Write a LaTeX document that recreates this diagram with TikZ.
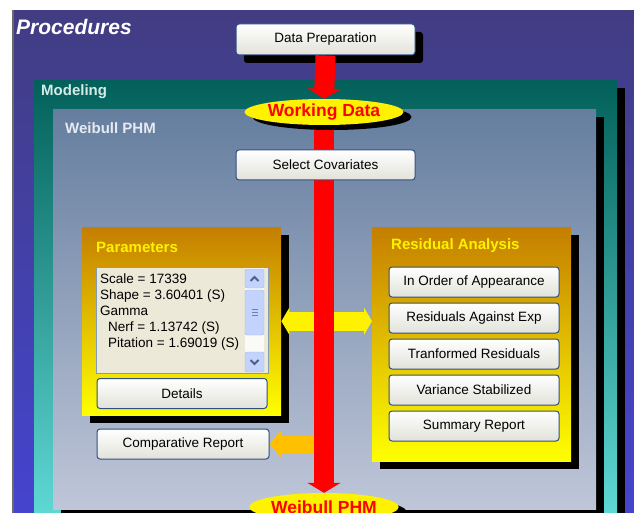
\documentclass[tikz,border=0pt]{standalone}
\usepackage{fontspec}
\setmainfont{Liberation Sans}
\usetikzlibrary{shapes.geometric}
\usetikzlibrary{shadows}
\usetikzlibrary{arrows.meta}
\definecolor{procTop}{HTML}{423D82}
\definecolor{procBot}{HTML}{4444D0}
\definecolor{procEdge}{HTML}{6A6A6A}
\definecolor{modTop}{HTML}{03605A}
\definecolor{modBot}{HTML}{60DAD6}
\definecolor{modText}{HTML}{D4ECE8}
\definecolor{phmTop}{HTML}{657E9F}
\definecolor{phmBot}{HTML}{BFC6D9}
\definecolor{phmText}{HTML}{E6EAF2}
\definecolor{goldTop}{HTML}{C47E00}
\definecolor{goldBot}{HTML}{FFFF00}
\definecolor{btnEdge}{HTML}{2F5080}
\definecolor{btnBot}{HTML}{E2E2DA}
\definecolor{listFill}{HTML}{ECE9D8}
\definecolor{listEdge}{HTML}{7F9DB9}
\definecolor{scrollTrack}{HTML}{FAFAF6}
\definecolor{scrollFill}{HTML}{C3D3FD}
\definecolor{scrollEdge}{HTML}{A2B8E6}
\definecolor{scrollMark}{HTML}{4D6185}
\definecolor{flowOrange}{HTML}{FFC000}
\pgfdeclarelayer{panels}
\pgfdeclarelayer{flows}
\pgfsetlayers{panels,flows,main}
\tikzset{
  shade8/.style={drop shadow={shadow xshift=8pt,shadow yshift=-8pt,opacity=1,fill=black}},
  frame/.style={rectangle, anchor=north west, inner sep=0pt},
  title/.style={anchor=west, inner sep=0pt, font=\bfseries\fontsize{15}{18}\selectfont},
  winbtn/.style={draw=btnEdge, line width=1pt, rounded corners=3pt, top color=white, bottom color=btnBot,
    minimum height=30pt, inner sep=0pt, text=black, font=\fontsize{13.5}{16}\selectfont},
  flowlabel/.style={ellipse, fill=yellow, minimum width=148pt, minimum height=26pt, inner sep=0pt,
    text=red, font=\bfseries\fontsize{17.5}{19}\selectfont,
    drop shadow={shadow xshift=8pt,shadow yshift=-5pt,opacity=1,fill=black}},
  listbox/.style={draw=listEdge, fill=listFill, line width=1pt, inner sep=0pt, anchor=north west},
  listtext/.style={anchor=base west, inner sep=0pt, font=\fontsize{13.5}{16}\selectfont},
  scrollbtn/.style={draw=scrollEdge, fill=scrollFill, rounded corners=2pt, minimum width=19pt, inner sep=0pt},
  redflow/.style={draw=red, line width=20pt, -{Triangle[width=33pt,length=10pt]}},
  yellowflow/.style={draw=yellow, line width=19pt, {Triangle[width=27pt,length=8pt]}-{Triangle[width=27pt,length=8pt]}},
  orangeflow/.style={draw=flowOrange, line width=17pt, -{Triangle[width=27pt,length=12pt]}}
}
\newcommand{\winbutton}[5]{\node[winbtn, minimum width=#4] (#1) at (#2, #3) {#5};}

\begin{document}
\begin{tikzpicture}[x=1pt,y=-1pt]
    \useasboundingbox (0,0) rectangle (634,513);

    % frames, back to front
    \begin{pgfonlayer}{panels}
        \clip (0,0) rectangle (634,513);
        \fill[white] (0,0) rectangle (634,513);
        \node[frame, top color=procTop, bottom color=procBot, minimum width=625pt, minimum height=510pt] (procedures) at (13,10) {};
        \draw[procEdge, line width=2pt] (procedures.north west) -- (procedures.south west);
        \node[frame, shade8, top color=modTop, bottom color=modBot, minimum width=583pt, minimum height=440pt] (modeling) at (34,80) {};
        \node[frame, shade8, top color=phmTop, bottom color=phmBot, minimum width=543pt, minimum height=400pt] (phm) at (53,109) {};
        \node[frame, shade8, top color=goldTop, bottom color=goldBot, minimum width=199pt, minimum height=188pt] (params) at (82,227) {};
        \node[frame, shade8, top color=goldTop, bottom color=goldBot, minimum width=199pt, minimum height=234pt] (resid) at (372,227) {};
        \node[winbtn, shade8, minimum width=179pt, minimum height=31pt] (dataprep) at (325.5,39.5) {Data Preparation};
    \end{pgfonlayer}

    \node[title, font=\bfseries\itshape\fontsize{21}{24}\selectfont, text=white] (proctitle) at (16,27) {Procedures};
    \node[title, text=modText] (modtitle) at (41,92) {Modeling};
    \node[title, text=phmText] (phmtitle) at (65,128) {Weibull PHM};
    \node[title, text=yellow] (paramtitle) at (96,247) {Parameters};
    \node[title, text=yellow] (residtitle) at (391,246) {Residual Analysis};

    \node[flowlabel] (workdata) at (324,112) {Working Data};
    \node[flowlabel, minimum height=28pt] (phmout) at (324,507) {Weibull PHM};

    \winbutton{selcov}{325.5}{165}{179pt}{Select Covariates}

    % parameter list
    \node[listbox, minimum width=172pt, minimum height=106pt] (paramlist) at (96,267) {};
    \node[listtext] (scale) at (100,283) {Scale = 17339};
    \node[listtext] (shape) at (100,299) {Shape = 3.60401 (S)};
    \node[listtext] (gamma) at (100,315) {Gamma};
    \node[listtext] (nerf) at (108,331) {Nerf = 1.13742 (S)};
    \node[listtext] (pitation) at (108,347) {Pitation = 1.69019 (S)};
    \fill[scrollTrack] (245,268) rectangle (264,372);
    \node[scrollbtn, minimum height=19pt] (scrollup) at (254.5,278.5) {};
    \node[scrollbtn, minimum height=45pt] (scrollthumb) at (254.5,312.5) {};
    \node[scrollbtn, minimum height=20pt] (scrolldown) at (254.5,362) {};
    \draw[scrollMark, line width=2pt] (250.5,281) -- (254.5,277) -- (258.5,281);
    \draw[scrollMark, line width=2pt] (250.5,360) -- (254.5,364) -- (258.5,360);
    \draw[scrollEdge!70!black, line width=0.7pt] (251.5,309.5) -- (257.5,309.5) (251.5,312.5) -- (257.5,312.5) (251.5,315.5) -- (257.5,315.5);

    \winbutton{details}{182}{393.5}{170pt}{Details}
    \winbutton{comprep}{183}{444}{172pt}{Comparative Report}

    \winbutton{inorder}{474}{282}{170pt}{In Order of Appearance}
    \winbutton{againstexp}{474}{318}{170pt}{Residuals Against Exp}
    \winbutton{tranformed}{474}{354}{170pt}{Tranformed Residuals}
    \winbutton{variance}{474}{390}{170pt}{Variance Stabilized}
    \winbutton{summary}{474}{426}{170pt}{Summary Report}

    % flows
    \begin{pgfonlayer}{flows}
        \draw[yellowflow] (params.east) -- (params.east -| resid.west);
        \draw[orangeflow] (comprep.east -| workdata.south) -- (comprep.east);
        \draw[redflow] (dataprep.south) -- (workdata.north);
        \draw[redflow] (workdata.south) -- (phmout.north);
    \end{pgfonlayer}

\end{tikzpicture}
\end{document}
